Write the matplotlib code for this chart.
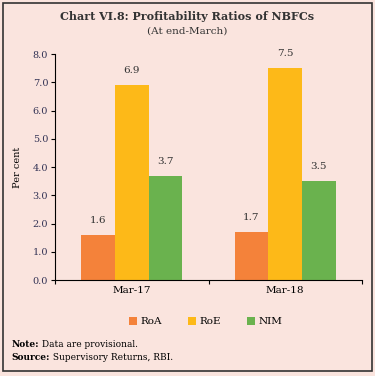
import matplotlib.pyplot as plt
import numpy as np
from matplotlib.patches import Rectangle

categories = ['Mar-17', 'Mar-18']
series = ['RoA', 'RoE', 'NIM']
roa = [1.6, 1.7]
roe = [6.9, 7.5]
nim = [3.7, 3.5]
colors = ['#F4823A', '#FDB918', '#6AB24E']
bg = '#FAE4DE'

plt.rcParams['font.family'] = ['DejaVu Serif']

fig = plt.figure(figsize=(3.75, 3.76), dpi=100, facecolor=bg)
ax = fig.add_axes([0.147, 0.255, 0.818, 0.601])
ax.set_facecolor(bg)

x = np.arange(len(categories))
width = 0.22
for i, (name, vals) in enumerate(zip(series, [roa, roe, nim])):
    pos = x + (i - 1) * width
    ax.bar(pos, vals, width, color=colors[i], label=name)
    for p, v in zip(pos, vals):
        ax.text(p, v + 0.35, f'{v:.1f}', ha='center', va='bottom', fontsize=7.5, color='#333333')

ax.set_xlim(-0.5, 1.5)
ax.set_ylim(0, 8)
ax.set_yticks(np.arange(0, 8.1, 1))
ax.set_yticklabels([f'{v:.1f}' for v in np.arange(0, 8.1, 1)], fontsize=7, color='#333355')
ax.set_xticks([-0.5, 0.5, 1.5])
ax.set_xticklabels([])
ax.set_xticks(x, minor=True)
ax.set_xticklabels(categories, minor=True, fontsize=7.5)
ax.tick_params(axis='x', which='minor', length=0, pad=4)
ax.tick_params(axis='x', which='major', direction='out', length=3)
ax.tick_params(axis='y', direction='out', length=3, pad=2)
for s in ['top', 'right']:
    ax.spines[s].set_visible(False)
ax.set_ylabel('Per cent', fontsize=7, labelpad=8)

ax.legend(loc='upper center', bbox_to_anchor=(0.49, -0.12), ncol=3, frameon=False,
          fontsize=7.5, handlelength=0.8, handleheight=0.8, handletextpad=0.3, columnspacing=2.5)

fig.text(0.5, 0.957, 'Chart VI.8: Profitability Ratios of NBFCs', ha='center', va='center',
         fontsize=8, fontweight='bold', color='#333333')
fig.text(0.5, 0.917, '(At end-March)', ha='center', va='center', fontsize=7.5, color='#333333')

renderer = fig.canvas.get_renderer()
for yy, head, rest in [(0.085, 'Note:', ' Data are provisional.'),
                       (0.048, 'Source:', ' Supervisory Returns, RBI.')]:
    t = fig.text(0.03, yy, head, fontsize=6.5, fontweight='bold', va='center')
    bb = t.get_window_extent(renderer)
    fig.text(bb.x1 / fig.bbox.width, yy, rest, fontsize=6.5, va='center')

fig.patches.append(Rectangle((0.008, 0.013), 0.984, 0.979, transform=fig.transFigure,
                             fill=False, edgecolor='#333333', linewidth=1.2))

fig.savefig('out.png', dpi=100, facecolor=bg)
